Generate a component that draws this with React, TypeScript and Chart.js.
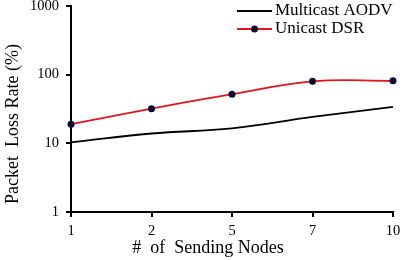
import React, { useEffect, useRef } from "react";
import { Chart, registerables } from "chart.js";

Chart.register(...registerables);

const categories = ["1", "2", "5", "7", "10"];
const multicastAODV = [10.3, 13.9, 16.5, 24.2, 34];
const unicastDSR = [19, 32, 52, 80, 81.5];
const yTicks = [1, 10, 100, 1000];
const xTitle = "#  of  Sending Nodes";
const yTitle = "Packet  Loss Rate (%)";

const FONT = "'Liberation Serif', 'Times New Roman', serif";

const legendPlugin = {
  id: "customLegend",
  afterDraw(chart: any) {
    const ctx = chart.ctx;
    ctx.save();
    ctx.font = `17px ${FONT}`;
    ctx.fillStyle = "#000";
    ctx.textBaseline = "middle";
    ctx.textAlign = "left";
    // Multicast AODV
    ctx.strokeStyle = "#000";
    ctx.lineWidth = 2;
    ctx.beginPath();
    ctx.moveTo(237, 11);
    ctx.lineTo(272, 11);
    ctx.stroke();
    ctx.fillText("Multicast AODV", 275, 11);
    // Unicast DSR
    ctx.strokeStyle = "#e3141e";
    ctx.beginPath();
    ctx.moveTo(237, 29);
    ctx.lineTo(272, 29);
    ctx.stroke();
    ctx.fillStyle = "#0a0a36";
    ctx.beginPath();
    ctx.arc(254.5, 29, 3.5, 0, Math.PI * 2);
    ctx.fill();
    ctx.fillStyle = "#000";
    ctx.fillText("Unicast DSR", 275, 29);

    // axis titles
    ctx.font = `18px ${FONT}`;
    ctx.textAlign = "center";
    ctx.textBaseline = "middle";
    ctx.fillText(xTitle, 208, 248);
    ctx.translate(13, 124);
    ctx.rotate(-Math.PI / 2);
    ctx.fillText(yTitle, 0, 0);
    ctx.restore();
  },
};

export default function App() {
  const ref = useRef<HTMLCanvasElement>(null);
  useEffect(() => {
    document.body.style.margin = "0";
    const chart = new Chart(ref.current!, {
      type: "line",
      data: {
        labels: categories,
        datasets: [
          {
            label: "Multicast AODV",
            data: multicastAODV,
            borderColor: "#000",
            borderWidth: 1.8,
            pointRadius: 0,
            tension: 0.4,
            fill: false,
          },
          {
            label: "Unicast DSR",
            data: unicastDSR,
            borderColor: "#e3141e",
            borderWidth: 1.8,
            pointRadius: 3.5,
            pointBackgroundColor: "#0a0a36",
            pointBorderColor: "#0a0a36",
            pointBorderWidth: 0,
            tension: 0.4,
            fill: false,
          },
        ],
      },
      options: {
        animation: false,
        responsive: false,
        layout: { padding: { top: 6, right: 13, left: 0, bottom: 0 } },
        plugins: { legend: { display: false }, tooltip: { enabled: false } },
        scales: {
          x: {
            offset: false,
            grid: {
              drawOnChartArea: false,
              drawTicks: true,
              tickLength: 5,
              color: "#000",
              lineWidth: 2,
            },
            border: { color: "#000", width: 2 },
            ticks: { color: "#000", font: { family: FONT, size: 14.5 }, padding: 5 },
            afterFit(scale: any) {
              scale.height = 48;
              scale.paddingTop = 0;
              scale.paddingRight = 0;
              scale.paddingLeft = 0;
            },
          },
          y: {
            type: "logarithmic",
            min: 1,
            max: 1000,
            grid: {
              drawOnChartArea: false,
              drawTicks: true,
              tickLength: 5,
              color: "#000",
              lineWidth: 2,
            },
            border: { color: "#000", width: 2 },
            afterBuildTicks(scale: any) {
              scale.ticks = yTicks.map((v) => ({ value: v }));
            },
            ticks: {
              color: "#000",
              font: { family: FONT, size: 14.5 },
              padding: 7,
              callback: (v: any) => String(v),
            },
            afterFit(scale: any) {
              scale.width = 71;
              scale.paddingTop = 0;
              scale.paddingBottom = 0;
            },
          },
        },
      },
      plugins: [legendPlugin],
    });
    return () => chart.destroy();
  }, []);
  return (
    <div style={{ position: "absolute", left: 0, top: 0, width: 406, height: 260 }}>
      <canvas ref={ref} width={406} height={260} style={{ width: 406, height: 260 }} />
    </div>
  );
}
